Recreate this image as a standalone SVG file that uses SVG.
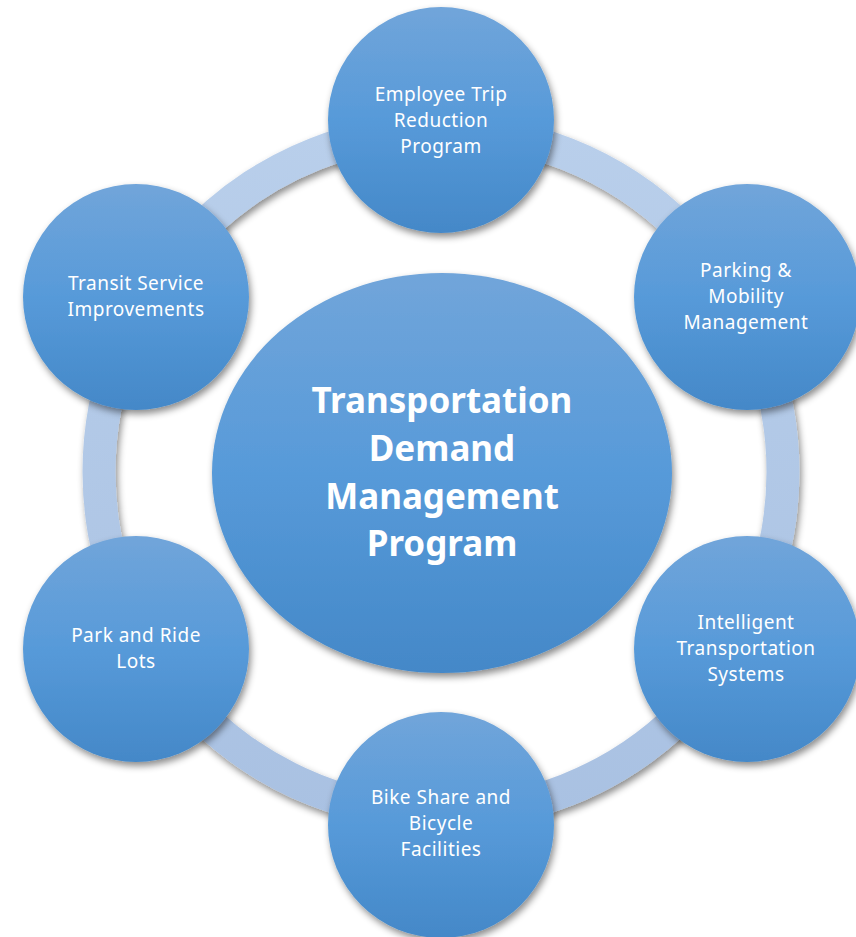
<svg xmlns="http://www.w3.org/2000/svg" width="856" height="937" viewBox="0 0 856 937">
<style>
.node{fill:url(#bg);filter:url(#sh)}
.lbl{font-family:"Noto Sans","Open Sans","Liberation Sans",sans-serif;font-size:19px;letter-spacing:0.5px;fill:#ffffff;text-anchor:middle}
.big{font-family:"Noto Sans","Open Sans","Liberation Sans",sans-serif;font-size:35px;font-weight:bold;fill:#ffffff;text-anchor:middle}
</style>
<defs>
<linearGradient id="bg" x1="0" y1="0" x2="0" y2="1">
<stop offset="0" stop-color="#71a5da"/>
<stop offset="0.5" stop-color="#579ad9"/>
<stop offset="1" stop-color="#4488c8"/>
</linearGradient>
<linearGradient id="rg" gradientUnits="userSpaceOnUse" x1="0" y1="120" x2="0" y2="830">
<stop offset="0" stop-color="#b9cfeb"/>
<stop offset="1" stop-color="#a9c1e2"/>
</linearGradient>
<filter id="sh" x="-20%" y="-20%" width="140%" height="140%">
<feDropShadow dx="2" dy="4" stdDeviation="3.5" flood-color="#000" flood-opacity="0.45"/>
</filter>
</defs>
<rect width="856" height="937" fill="#ffffff"/>
<g id="connectors">
<circle cx="441" cy="472" r="342" fill="none" stroke="url(#rg)" stroke-width="33" filter="url(#sh)"/>
</g>
<g id="center">
<ellipse class="node" cx="442" cy="473" rx="230" ry="200"/>
<text class="big" x="442" y="413">Transportation</text>
<text class="big" x="442" y="461">Demand</text>
<text class="big" x="442" y="509">Management</text>
<text class="big" x="442" y="556">Program</text>
</g>
<g id="n1">
<circle class="node" cx="441" cy="120" r="113"/>
<text class="lbl" x="441" y="101">Employee Trip</text>
<text class="lbl" x="441" y="127">Reduction</text>
<text class="lbl" x="441" y="153">Program</text>
</g>
<g id="n2">
<circle class="node" cx="747" cy="297" r="113"/>
<text class="lbl" x="746" y="277">Parking &amp;</text>
<text class="lbl" x="746" y="303">Mobility</text>
<text class="lbl" x="746" y="329">Management</text>
</g>
<g id="n3">
<circle class="node" cx="747" cy="649" r="113"/>
<text class="lbl" x="746" y="629">Intelligent</text>
<text class="lbl" x="746" y="655">Transportation</text>
<text class="lbl" x="746" y="681">Systems</text>
</g>
<g id="n4">
<circle class="node" cx="441" cy="825" r="113"/>
<text class="lbl" x="441" y="804">Bike Share and</text>
<text class="lbl" x="441" y="830">Bicycle</text>
<text class="lbl" x="441" y="856">Facilities</text>
</g>
<g id="n5">
<circle class="node" cx="136" cy="649" r="113"/>
<text class="lbl" x="136" y="642">Park and Ride</text>
<text class="lbl" x="136" y="668">Lots</text>
</g>
<g id="n6">
<circle class="node" cx="136" cy="297" r="113"/>
<text class="lbl" x="136" y="290">Transit Service</text>
<text class="lbl" x="136" y="316">Improvements</text>
</g>
</svg>
